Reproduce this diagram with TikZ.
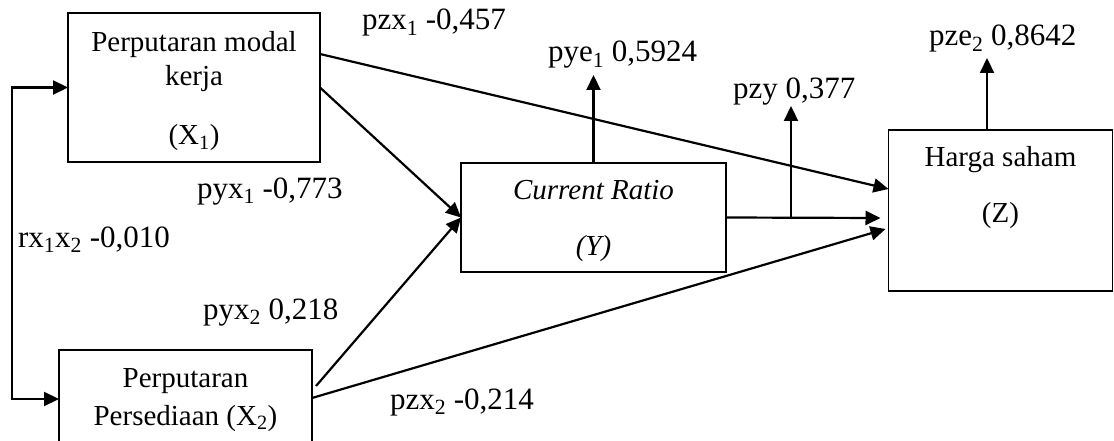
\documentclass[tikz,border=0pt]{standalone}
\usepackage{fontspec}
\setmainfont{Liberation Serif}
\usetikzlibrary{arrows.meta,calc}
\begin{document}
\begin{tikzpicture}[x=1pt,y=-1pt,
  every node/.style={font=\fontsize{29}{34}\selectfont, inner sep=0pt, outer sep=0pt},
  boxnode/.style={draw, line width=1.8pt, rectangle, inner sep=0pt},
  txt/.style={anchor=base},
  lbl/.style={anchor=base west, font=\fontsize{31}{36}\selectfont},
  arr/.style={line width=2.2pt, -{Triangle[length=15pt,width=14pt]}},
  darr/.style={line width=2.2pt, {Triangle[length=15pt,width=14pt]}-{Triangle[length=15pt,width=14pt]}}]
\useasboundingbox (0,0) rectangle (1114,441);
% boxes
\node[boxnode, minimum width=252pt, minimum height=149pt] (X1) at (194,87.5) {};
\node[boxnode, minimum width=253pt, minimum height=120pt] (X2) at (185.5,410) {};
\node[boxnode, minimum width=265pt, minimum height=109pt] (Y) at (593.5,217.5) {};
\node[boxnode, minimum width=224pt, minimum height=161pt] (Z) at (1000.5,210.5) {};
% box texts
\node[txt] (X1a) at (194,52) {Perputaran modal};
\node[txt] (X1b) at (194,86) {kerja};
\node[txt] (X1c) at (194,145) {(X\textsubscript{1})};
\node[txt] (X2a) at (185.5,387) {Perputaran};
\node[txt] (X2b) at (185.5,425) {Persediaan (X\textsubscript{2})};
\node[txt] (Ya) at (593.5,200) {\textit{Current Ratio}};
\node[txt] (Yb) at (593.5,255) {\textit{(Y)}};
\node[txt] (Za) at (1000.5,167) {Harga saham};
\node[txt] (Zb) at (1000.5,222) {(Z)};
% labels
\node[lbl] (l1) at (362,30) {pzx\textsubscript{1} -0,457};
\node[lbl] (l2) at (197,198) {pyx\textsubscript{1} -0,773};
\node[lbl] (l3) at (18,247) {rx\textsubscript{1}x\textsubscript{2} -0,010};
\node[lbl] (l4) at (203,319) {pyx\textsubscript{2} 0,218};
\node[lbl] (l5) at (390,409) {pzx\textsubscript{2} -0,214};
\node[lbl] (l6) at (548,62) {pye\textsubscript{1} 0,5924};
\node[lbl] (l7) at (733,99) {pzy 0,377};
\node[lbl] (l8) at (929,46) {pze\textsubscript{2} 0,8642};
% connector end points
\coordinate (x1z) at ($(X1.north east)!0.275!(X1.south east)$);
\coordinate (x2y) at ($(X2.north east)+(4,36)$);
\coordinate (x2z) at ($(X2.north east)+(0,48)$);
\coordinate (zin1) at ($(Z.north west)+(0,59)$);
\coordinate (zin2) at ($(Z.west)+(-8,7.5)$);
\coordinate (zin3) at ($(Z.west)+(-3,18.5)$);
\coordinate (jn) at (791,217.5);
\coordinate (pzytip) at (791,106);
\coordinate (pyetip) at ($(Y.north)+(0,-88)$);
\coordinate (pzebase) at ($(Z.north)+(-13.5,0)$);
\coordinate (pzetip) at ($(Z.north)+(-13.5,-72)$);
\coordinate (x2in) at ($(X2.north west)+(0,49)$);
% connectors
\draw[arr] (x1z) -- (zin1);
\draw[arr] (X1.east) -- (Y.west);
\draw[arr] (x2y) -- (Y.west);
\draw[arr] (x2z) -- (zin3);
\draw[arr] (Y.east) -- (zin2);
\draw[arr] (jn) -- (pzytip);
\draw[arr] (Y.north) -- (pyetip);
\draw[arr] (pzebase) -- (pzetip);
\draw[darr] (X1.west) -- ++(-56,0) |- (x2in);
\end{tikzpicture}
\end{document}
